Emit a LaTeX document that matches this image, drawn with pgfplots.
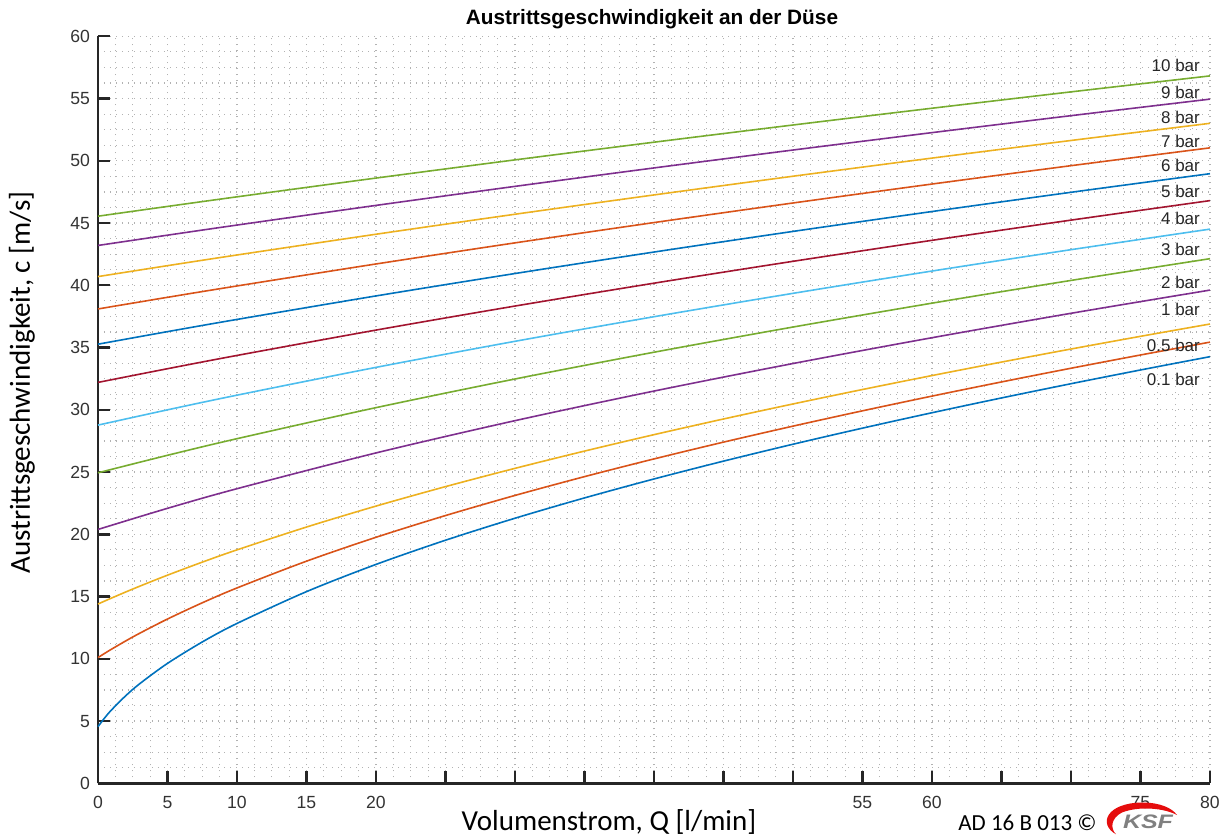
\documentclass[border=0pt]{standalone}
\usepackage{fontspec}
\setmainfont{Liberation Sans}
\newfontfamily\calibri{Carlito}
\usepackage{pgfplots}
\pgfplotsset{compat=1.18}
\usepackage{pgfplotstable}

\definecolor{mb}{rgb}{0,0.447,0.741}
\definecolor{mo}{rgb}{0.85,0.325,0.098}
\definecolor{my}{rgb}{0.929,0.694,0.125}
\definecolor{mp}{rgb}{0.494,0.184,0.556}
\definecolor{mg}{rgb}{0.466,0.674,0.188}
\definecolor{mc}{rgb}{0.301,0.745,0.933}
\definecolor{mr}{rgb}{0.635,0.078,0.184}
\definecolor{ksfred}{rgb}{0.9,0.05,0.05}

\pgfplotstableread{
Q p01 p05 p1
0 4.550 10.100 14.400
0.5 5.283 10.451 14.648
1 5.926 10.790 14.892
2 7.038 11.439 15.369
3 7.998 12.053 15.831
5 9.633 13.195 16.717
7.5 11.351 14.497 17.763
10 12.841 15.691 18.750
15 15.395 17.841 20.583
20 17.581 19.759 22.266
25 19.524 21.506 23.830
30 21.291 23.122 25.297
35 22.922 24.632 26.684
40 24.444 26.054 28.003
45 25.877 27.403 29.262
50 27.234 28.688 30.469
55 28.527 29.918 31.630
60 29.764 31.100 32.750
65 30.952 32.238 33.833
70 32.095 33.338 34.882
75 33.199 34.402 35.901
80 34.268 35.435 36.891
}\lowtab

\pgfplotstableread{
Q p2 p3 p4 p5 p6 p7 p8 p9 p10
0 20.39 24.94 28.77 32.20 35.27 38.10 40.70 43.20 45.55
5 22.087 26.346 29.997 33.300 36.278 39.035 41.577 44.026 46.335
10 23.663 27.680 31.175 34.366 37.259 39.947 42.435 44.838 47.106
20 26.536 30.173 33.408 36.403 39.146 41.713 44.101 46.418 48.613
30 29.127 32.475 35.501 38.333 40.946 43.408 45.707 47.946 50.074
40 31.505 34.624 37.477 40.170 42.671 45.038 47.258 49.427 51.494
50 33.716 36.647 39.354 41.926 44.328 46.611 48.760 50.865 52.875
60 35.790 38.564 41.145 43.612 45.926 48.133 50.217 52.263 54.222
70 37.751 40.391 42.861 45.235 47.470 49.608 51.632 53.625 55.536
80 39.615 42.138 44.512 46.802 48.965 51.041 53.010 54.953 56.819
}\hightab

\begin{document}
\begin{tikzpicture}
\path[use as bounding box] (-49pt,-26.35pt) rectangle (564.5pt,391.65pt);
\begin{axis}[
  scale only axis, width=556pt, height=373.5pt,
  xmin=0, xmax=80, ymin=0, ymax=60,
  axis x line*=bottom, axis y line*=left,
  xtick={0,5,...,80}, ytick={0,5,...,60},
  xticklabels={0,5,10,15,20,,,,,,,55,60,,,75,80},
  minor tick num=3,
  grid=both,
  major grid style={black!30, line width=0.6pt, dash pattern=on 0.6pt off 2.4pt},
  minor grid style={black!30, line width=0.6pt, dash pattern=on 0.6pt off 2.4pt},
  tick align=inside,
  major tick length=6pt, minor tick length=0pt,
  axis line style={line width=1.3pt, black!85},
  every tick/.style={line width=1.2pt, black!85},
  tick label style={font=\fontsize{8.8}{10}\selectfont, text=black!80},
  xticklabel style={yshift=-3pt},
  yticklabel style={xshift=-0.5pt},
  /pgf/number format/assume math mode=true,
  every axis plot/.append style={line width=0.8pt, smooth},
  clip=false,
]
\addplot[mb] table[x=Q,y=p01]{\lowtab};
\addplot[mo] table[x=Q,y=p05]{\lowtab};
\addplot[my] table[x=Q,y=p1]{\lowtab};
\addplot[mp] table[x=Q,y=p2]{\hightab};
\addplot[mg] table[x=Q,y=p3]{\hightab};
\addplot[mc] table[x=Q,y=p4]{\hightab};
\addplot[mr] table[x=Q,y=p5]{\hightab};
\addplot[mb] table[x=Q,y=p6]{\hightab};
\addplot[mo] table[x=Q,y=p7]{\hightab};
\addplot[my] table[x=Q,y=p8]{\hightab};
\addplot[mp] table[x=Q,y=p9]{\hightab};
\addplot[mg] table[x=Q,y=p10]{\hightab};
\begin{scope}[every node/.style={anchor=east, font=\fontsize{8.5}{10}\selectfont, text=black!85, inner sep=0pt}]
\node at (axis cs:79.3,57.67) {10 bar};
\node at (axis cs:79.3,55.50) {9 bar};
\node at (axis cs:79.3,53.48) {8 bar};
\node at (axis cs:79.3,51.59) {7 bar};
\node at (axis cs:79.3,49.64) {6 bar};
\node at (axis cs:79.3,47.50) {5 bar};
\node at (axis cs:79.3,45.36) {4 bar};
\node at (axis cs:79.3,42.90) {3 bar};
\node at (axis cs:79.3,40.27) {2 bar};
\node at (axis cs:79.3,38.05) {1 bar};
\node at (axis cs:79.3,35.19) {0.5 bar};
\node at (axis cs:79.3,32.44) {0.1 bar};
\end{scope}
\end{axis}
\node[font=\bfseries\fontsize{10.4}{12}\selectfont] at (277pt,382.2pt) {Austrittsgeschwindigkeit an der Düse};
\node[rotate=90, font=\calibri\fontsize{14.5}{16}\selectfont] at (-38pt,200.4pt) {Austrittsgeschwindigkeit, c [m/s]};
\node[font=\calibri\fontsize{14.5}{16}\selectfont] at (255.5pt,-19.35pt) {Volumenstrom, Q [l/min]};
\node[anchor=west, inner sep=0pt, font=\calibri\fontsize{11.5}{13}\selectfont] at (430pt,-19.6pt) {AD 16 B 013 ©};
\fill[ksfred] (509pt,-25.5pt) .. controls (500pt,-20.5pt) and (504pt,-9.85pt) .. (522pt,-9.6pt)
  .. controls (531pt,-9.6pt) and (537pt,-12.35pt) .. (539.5pt,-15.85pt)
  .. controls (533.5pt,-12.6pt) and (521pt,-11.1pt) .. (512pt,-14.6pt)
  .. controls (506.5pt,-17.35pt) and (506pt,-22.5pt) .. (509pt,-25.5pt) -- cycle;
\node[text=black!50, inner sep=0pt] at (525pt,-19pt) {\scalebox{1}[0.78]{\fontsize{12.5}{14}\selectfont\bfseries\itshape KSF}};
\end{tikzpicture}
\end{document}
